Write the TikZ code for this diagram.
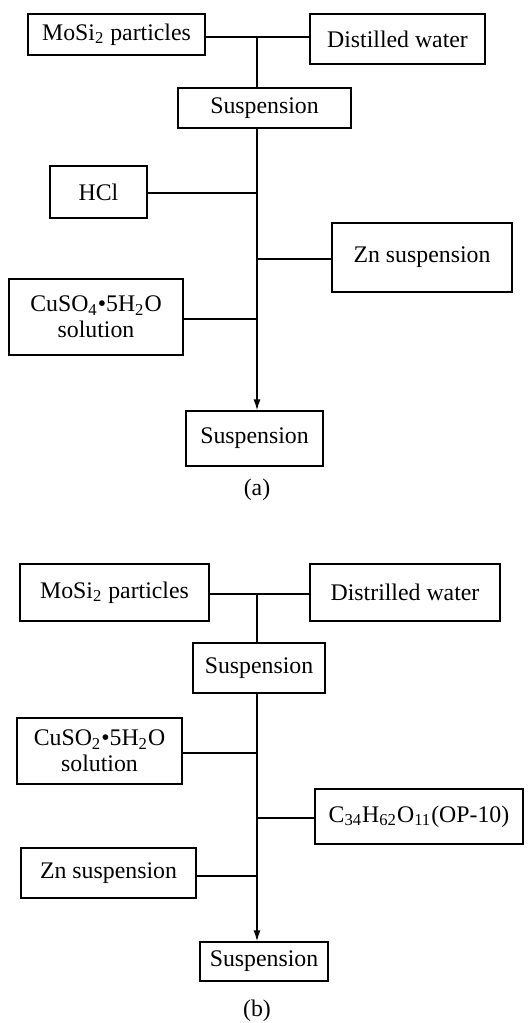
\documentclass[tikz,border=0pt]{standalone}
\usepackage{fontspec}
\setmainfont{Liberation Serif}
\usetikzlibrary{arrows.meta}

\tikzset{
	box/.style={draw, line width=0.75pt, inner sep=0pt, align=center},
	link/.style={line width=0.75pt},
	flow/.style={line width=0.75pt, -{Latex[length=5.5pt,width=3.6pt]}}
}

\begin{document}
\begin{tikzpicture}[x=0.5pt, y=-0.5pt, font=\fontsize{11.9pt}{13pt}\selectfont]
		\useasboundingbox (0,0) rectangle (530,1023);

		% (a)
		\node[box, minimum width=88.5pt, minimum height=20.5pt] (mosiA) at (116.5,34.5) {MoSi\textsubscript{2} particles};
		\node[box, minimum width=87.5pt, minimum height=25pt] (waterA) at (397.5,39) {Distilled water};
		\node[box, minimum width=86.5pt, minimum height=20pt] (suspA) at (264.5,108) {Suspension};
		\node[box, minimum width=48.5pt, minimum height=26pt] (hclA) at (98.5,192) {HCl};
		\node[box, minimum width=90pt, minimum height=34.5pt] (znA) at (422,257.5) {Zn suspension};
		\node[box, minimum width=87pt, minimum height=38pt] (cuA) at (96,317) {CuSO\textsubscript{4}\textbullet5H\textsubscript{2}O\\solution};
		\node[box, minimum width=68.5pt, minimum height=27.5pt] (endA) at (254.5,438.5) {Suspension};
		\node (capA) at (257,490) {(a)};

		\coordinate (jA) at (257,37);
		\draw[link] (mosiA.east |- jA) -- (waterA.west |- jA);
		\draw[link] (jA) -- (jA |- suspA.north);
		\draw[flow] (jA |- suspA.south) -- (jA |- endA.north);
		\draw[link] (hclA.east |- 0,193) -- (jA |- 0,193);
		\draw[link] (znA.west |- 0,259) -- (jA |- 0,259);
		\draw[link] (cuA.east |- 0,319) -- (jA |- 0,319);

		% (b)
		\node[box, minimum width=94.5pt, minimum height=28.5pt] (mosiB) at (114.5,592.5) {MoSi\textsubscript{2} particles};
		\node[box, minimum width=95pt, minimum height=28.5pt] (waterB) at (405,592.5) {Distrilled water};
		\node[box, minimum width=66pt, minimum height=25pt] (suspB) at (259,668) {Suspension};
		\node[box, minimum width=82.5pt, minimum height=33pt] (cuB) at (99.5,751) {CuSO\textsubscript{2}\textbullet5H\textsubscript{2}O\\solution};
		\node[box, minimum width=104pt, minimum height=27.5pt] (opB) at (419,816.5) {C\textsubscript{34}H\textsubscript{62}O\textsubscript{11}(OP-10)};
		\node[box, minimum width=87.5pt, minimum height=25pt] (znB) at (108.5,873) {Zn suspension};
		\node[box, minimum width=64pt, minimum height=19.5pt] (endB) at (264,961.5) {Suspension};
		\node (capB) at (257,1011) {(b)};

		\coordinate (jB) at (257,594);
		\draw[link] (mosiB.east |- jB) -- (waterB.west |- jB);
		\draw[link] (jB) -- (jB |- suspB.north);
		\draw[flow] (jB |- suspB.south) -- (jB |- endB.north);
		\draw[link] (cuB.east |- 0,753) -- (jB |- 0,753);
		\draw[link] (opB.west |- 0,818) -- (jB |- 0,818);
		\draw[link] (znB.east |- 0,876) -- (jB |- 0,876);
	\end{tikzpicture}
\end{document}
